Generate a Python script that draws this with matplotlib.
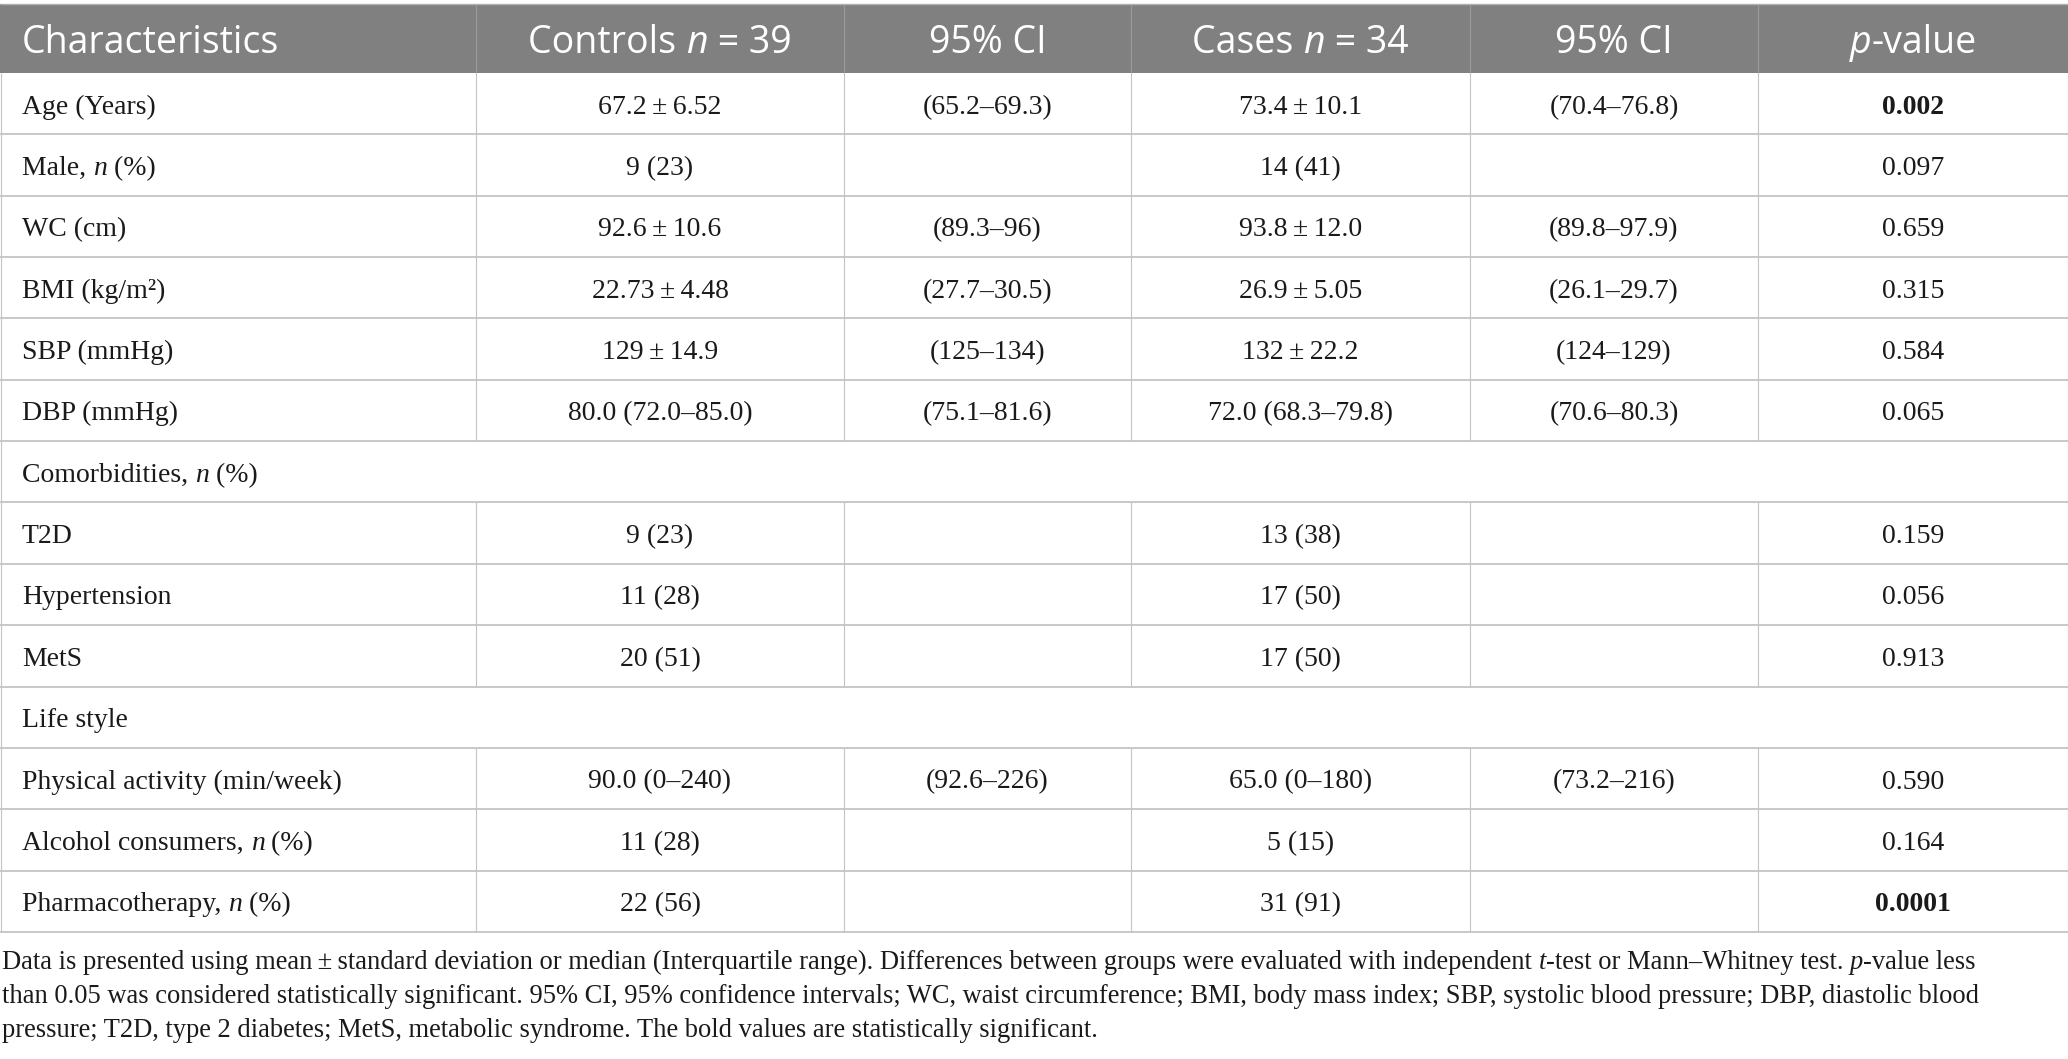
import matplotlib
matplotlib.use("Agg")
import matplotlib.pyplot as plt
from matplotlib.patches import Rectangle

# table content
headers = ["Characteristics", "Controls *n* = 39", "95% CI", "Cases *n* = 34", "95% CI", "*p*-value"]
labels = ["Age (Years)", "Male, *n* (%)", "WC (cm)", "BMI (kg/m\u00b2)", "SBP (mmHg)", "DBP (mmHg)",
          "Comorbidities, *n* (%)", "T2D", "Hypertension", "MetS", "Life style",
          "Physical activity (min/week)", "Alcohol consumers, *n* (%)", "Pharmacotherapy, *n* (%)"]
controls = ["67.2\u2009\u00b1\u20096.52", "9 (23)", "92.6\u2009\u00b1\u200910.6", "22.73\u2009\u00b1\u20094.48",
            "129\u2009\u00b1\u200914.9", "80.0 (72.0\u201385.0)", None, "9 (23)", "11 (28)", "20 (51)", None,
            "90.0 (0\u2013240)", "11 (28)", "22 (56)"]
controls_ci = ["(65.2\u201369.3)", "", "(89.3\u201396)", "(27.7\u201330.5)", "(125\u2013134)", "(75.1\u201381.6)",
               None, "", "", "", None, "(92.6\u2013226)", "", ""]
cases = ["73.4\u2009\u00b1\u200910.1", "14 (41)", "93.8\u2009\u00b1\u200912.0", "26.9\u2009\u00b1\u20095.05",
         "132\u2009\u00b1\u200922.2", "72.0 (68.3\u201379.8)", None, "13 (38)", "17 (50)", "17 (50)", None,
         "65.0 (0\u2013180)", "5 (15)", "31 (91)"]
cases_ci = ["(70.4\u201376.8)", "", "(89.8\u201397.9)", "(26.1\u201329.7)", "(124\u2013129)", "(70.6\u201380.3)",
            None, "", "", "", None, "(73.2\u2013216)", "", ""]
p_values = ["0.002", "0.097", "0.659", "0.315", "0.584", "0.065", None, "0.159", "0.056", "0.913", None,
            "0.590", "0.164", "0.0001"]
footnote = [
    "Data is presented using mean\u2009\u00b1\u2009standard deviation or median (Interquartile range). "
    "Differences between groups were evaluated with independent *t*-test or Mann\u2013Whitney test. *p*-value less",
    "than 0.05 was considered statistically significant. 95% CI, 95% confidence intervals; WC, waist "
    "circumference; BMI, body mass index; SBP, systolic blood pressure; DBP, diastolic blood",
    "pressure; T2D, type 2 diabetes; MetS, metabolic syndrome. The bold values are statistically significant.",
]

# layout (pixels)
W, H = 2068, 1059
col_edges = [0, 476, 844, 1131, 1470, 1758, 2068]
head_top, head_bot = 4, 73
row_h = 61.35
HEAD_BG = "#808080"
GRID = "#c4c4c4"
TXT = "#1a1a1a"
SERIF = "Liberation Serif"
SANS = "Open Sans"
BODY_FS = 20
HEAD_FS = 27
NOTE_FS = 19
NOTE_WIDTH = 1980  # first footnote line spans almost the full width

fig = plt.figure(figsize=(W / 100, H / 100), dpi=100)
ax = fig.add_axes([0, 0, 1, 1])
ax.set_xlim(0, W)
ax.set_ylim(H, 0)
ax.axis("off")
renderer = fig.canvas.get_renderer()

_bar_cache = {}


def text_width(s, **kw):
    key = tuple(sorted(kw.items()))
    if key not in _bar_cache:
        t = ax.text(0, 0, "||", **kw)
        _bar_cache[key] = t.get_window_extent(renderer).width
        t.remove()
    t = ax.text(0, 0, "|" + s + "|", **kw)
    w = t.get_window_extent(renderer).width - _bar_cache[key]
    t.remove()
    return w


def make_runs(s, family, size, weight):
    parts = s.split("*")
    runs = []
    for i, p in enumerate(parts):
        if p:
            style = "italic" if i % 2 else "normal"
            kw = dict(family=family, fontsize=size, fontstyle=style, fontweight=weight)
            runs.append((p, kw, text_width(p, **kw)))
    return runs


def draw_runs(x, y, s, ha="left", family=SERIF, size=BODY_FS, color=TXT, weight="normal"):
    runs = make_runs(s, family, size, weight)
    total = sum(r[2] for r in runs)
    cx = x - total / 2 if ha == "center" else x
    for p, kw, w in runs:
        ax.text(cx, y, p, ha="left", va="baseline", color=color, **kw)
        cx += w
    return total


# header
ax.add_patch(Rectangle((0, head_top), W, head_bot - head_top, facecolor=HEAD_BG, edgecolor="none"))
ax.hlines(head_top, 0, W, color="#b0b0b0", lw=1.0)
ax.vlines(col_edges[1:-1], head_top, head_bot, color="#9a9a9a", lw=0.8)
head_base = 53
for j, h in enumerate(headers):
    if j == 0:
        draw_runs(22, head_base, h, family=SANS, size=HEAD_FS, color="white")
    else:
        draw_runs((col_edges[j] + col_edges[j + 1]) / 2, head_base, h, ha="center",
                  family=SANS, size=HEAD_FS, color="white")

# body rows
n = len(labels)
for i in range(n):
    top = head_bot + i * row_h
    bot = top + row_h
    base = (top + bot) / 2 + 10
    ax.hlines(bot, 0, W, color=GRID, lw=1.3)
    section = controls[i] is None
    if not section:
        ax.vlines(col_edges[1:-1], top, bot, color=GRID, lw=0.8)
    draw_runs(22, base, labels[i])
    if section:
        continue
    cells = [controls[i], controls_ci[i], cases[i], cases_ci[i], p_values[i]]
    for j, c in enumerate(cells):
        if not c:
            continue
        weight = "bold" if j == 4 and float(c) < 0.05 else "normal"
        draw_runs((col_edges[j + 1] + col_edges[j + 2]) / 2, base, c, ha="center", weight=weight)

ax.vlines([0.5, W - 0.5], head_bot, head_bot + n * row_h, color=GRID, lw=0.8)

# footnote, sized so the first line fills the width like the reference
w0 = sum(r[2] for r in make_runs(footnote[0], SERIF, NOTE_FS, "normal"))
note_fs = NOTE_FS * NOTE_WIDTH / w0
note_base = [969, 1003, 1037]
for y, line in zip(note_base, footnote):
    draw_runs(2, y, line, size=note_fs)

fig.savefig("out.png", dpi=100, facecolor="white")
